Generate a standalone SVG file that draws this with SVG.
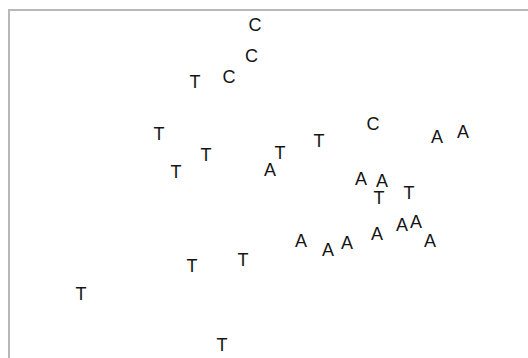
<svg xmlns="http://www.w3.org/2000/svg" width="528" height="358" viewBox="0 0 528 358">
<style>
text{font-family:"Liberation Sans",Arial,sans-serif;font-size:18px;fill:#151515;text-anchor:middle}
.frame{fill:none;stroke:#b8b8b8;stroke-width:2}
</style>
<rect width="528" height="358" fill="#ffffff"/>
<path class="frame" d="M9,358 V10 H528"/>
<g id="points">
<text x="255" y="31">C</text>
<text x="251.5" y="62">C</text>
<text x="229" y="83">C</text>
<text x="195" y="88">T</text>
<text x="373" y="130">C</text>
<text x="159" y="140">T</text>
<text x="206" y="161">T</text>
<text x="176" y="178">T</text>
<text x="270" y="176">A</text>
<text x="280" y="159">T</text>
<text x="319" y="147">T</text>
<text x="437" y="143">A</text>
<text x="463" y="138">A</text>
<text x="361" y="185">A</text>
<text x="382" y="187">A</text>
<text x="379" y="204">T</text>
<text x="409" y="199">T</text>
<text x="301" y="247">A</text>
<text x="328" y="256">A</text>
<text x="347" y="249">A</text>
<text x="377" y="240">A</text>
<text x="402" y="231">A</text>
<text x="416" y="228">A</text>
<text x="430" y="247">A</text>
<text x="81" y="300">T</text>
<text x="192" y="272">T</text>
<text x="243" y="266">T</text>
<text x="222" y="351">T</text>
</g>
</svg>
